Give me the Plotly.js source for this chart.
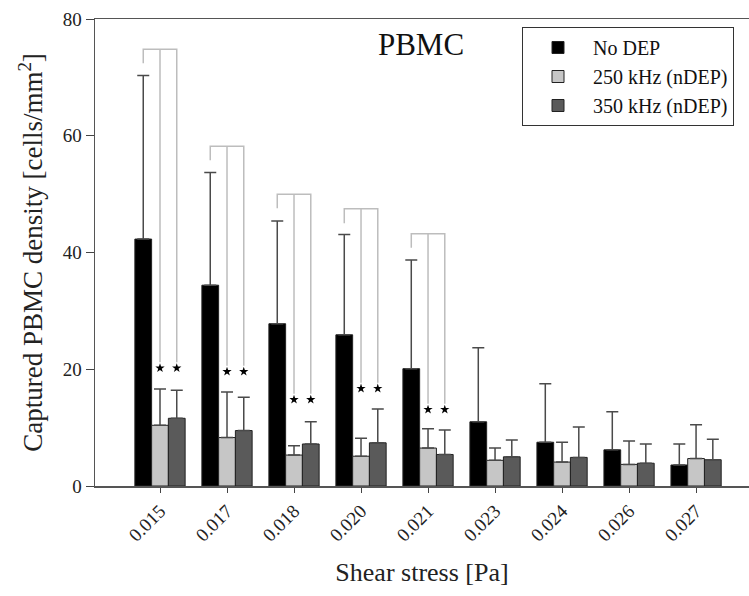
<!DOCTYPE html>
<html>
<head>
<meta charset="utf-8">
<script src="https://cdn.plot.ly/plotly-3.0.1.min.js"></script>
<style>html,body{margin:0;padding:0;background:#fff;}#chart{width:749px;height:596px;}</style>
</head>
<body>
<div id="chart"></div>
<script>
var categories = ['0.015','0.017','0.018','0.020','0.021','0.023','0.024','0.026','0.027'];
var seriesNames = ['No DEP','250 kHz (nDEP)','350 kHz (nDEP)'];
var noDep      = [42.3, 34.4, 27.8, 25.9, 20.1, 11.0, 7.5, 6.2, 3.6];
var noDepErr   = [28.0, 19.3, 17.6, 17.2, 18.6, 12.7, 10.0, 6.5, 3.6];
var khz250     = [10.4, 8.3, 5.3, 5.1, 6.5, 4.4, 4.1, 3.7, 4.7];
var khz250Err  = [6.2, 7.8, 1.6, 3.1, 3.3, 2.1, 3.4, 4.0, 5.8];
var khz350     = [11.6, 9.5, 7.2, 7.4, 5.4, 5.0, 4.9, 3.9, 4.5];
var khz350Err  = [4.8, 5.7, 3.8, 5.8, 4.2, 2.9, 5.2, 3.3, 3.5];

// significance brackets (first five groups)
var bracketGroups   = [0, 1, 2, 3, 4];
var bracketTop      = [74.8, 58.2, 50.0, 47.5, 43.2];
var bracketLeftEnd  = [72.4, 55.8, 47.6, 45.0, 40.8];
var bracketLineEnd  = [21.2, 20.6, 15.8, 17.7, 14.1];
var starY           = [20.2, 19.6, 14.8, 16.7, 13.1];

var idx = categories.map(function(c, i){ return i; });
var zeros = idx.map(function(){ return 0; });

function barTrace(name, y, err, color){
  return {
    type: 'bar', name: name, x: idx, y: y,
    marker: {color: color, line: {color: '#222', width: 1}},
    error_y: {type: 'data', symmetric: false, array: err, arrayminus: zeros,
              color: '#4a4a4a', thickness: 1.5, width: 6}
  };
}

var traces = [
  barTrace(seriesNames[0], noDep, noDepErr, '#000000'),
  barTrace(seriesNames[1], khz250, khz250Err, '#c6c6c6'),
  barTrace(seriesNames[2], khz350, khz350Err, '#5a5a5a')
];

var bx = [], by = [], sx = [], sy = [];
bracketGroups.forEach(function(g, k){
  var xl = g - 0.25, xm = g, xr = g + 0.25;
  bx.push(xl, xl, xr, xr, null, xm, xm, null);
  by.push(bracketLeftEnd[k], bracketTop[k], bracketTop[k], bracketLineEnd[k], null, bracketTop[k], bracketLineEnd[k], null);
  sx.push(xm, xr);
  sy.push(starY[k], starY[k]);
});
traces.push({type: 'scatter', mode: 'lines', x: bx, y: by, showlegend: false, hoverinfo: 'skip',
  line: {color: '#bdbdbd', width: 1.5}});
traces.push({type: 'scatter', mode: 'markers', x: sx, y: sy, showlegend: false, hoverinfo: 'skip',
  marker: {symbol: 'star', size: 7, color: '#000'}});

var serif = "'Liberation Serif', serif";
var layout = {
  width: 749, height: 596,
  margin: {l: 95, r: 0, t: 19, b: 110},
  paper_bgcolor: '#fff', plot_bgcolor: '#fff',
  font: {family: serif, color: '#222'},
  barmode: 'group', bargap: 0.25, bargroupgap: 0,
  title: {text: 'PBMC', font: {family: serif, size: 31, color: '#111'},
          x: 421/749, xanchor: 'center', y: 1 - 44/596, yanchor: 'middle'},
  xaxis: {
    range: [-0.97, 8.79], tickmode: 'array', tickvals: idx, ticktext: categories,
    tickangle: -45, ticks: 'outside', ticklen: 5, tickcolor: '#444',
    showline: true, linecolor: '#555', linewidth: 1.5, mirror: true,
    showgrid: false, zeroline: false,
    tickfont: {family: serif, size: 19, color: '#222'},
    title: {text: 'Shear stress [Pa]', font: {family: serif, size: 26, color: '#222'}, standoff: 18}
  },
  yaxis: {
    range: [0, 80], tickvals: [0, 20, 40, 60, 80], ticks: 'outside', ticklen: 8, tickcolor: '#444',
    showline: true, linecolor: '#555', linewidth: 1.5, showgrid: false, zeroline: false,
    tickfont: {family: serif, size: 19, color: '#222'},
    title: {text: 'Captured PBMC density [cells/mm<sup>2</sup>]', font: {family: serif, size: 27, color: '#222'}, standoff: 12}
  },
  legend: {
    x: (522 - 95) / 654, y: (486 - 27) / 467, xanchor: 'left', yanchor: 'top',
    bgcolor: '#fff', bordercolor: '#333', borderwidth: 1,
    font: {family: serif, size: 20, color: '#111'},
    itemwidth: 60, tracegroupgap: 0
  },
  showlegend: true
};

Plotly.newPlot('chart', traces, layout, {displayModeBar: false, staticPlot: true});
</script>
</body>
</html>
